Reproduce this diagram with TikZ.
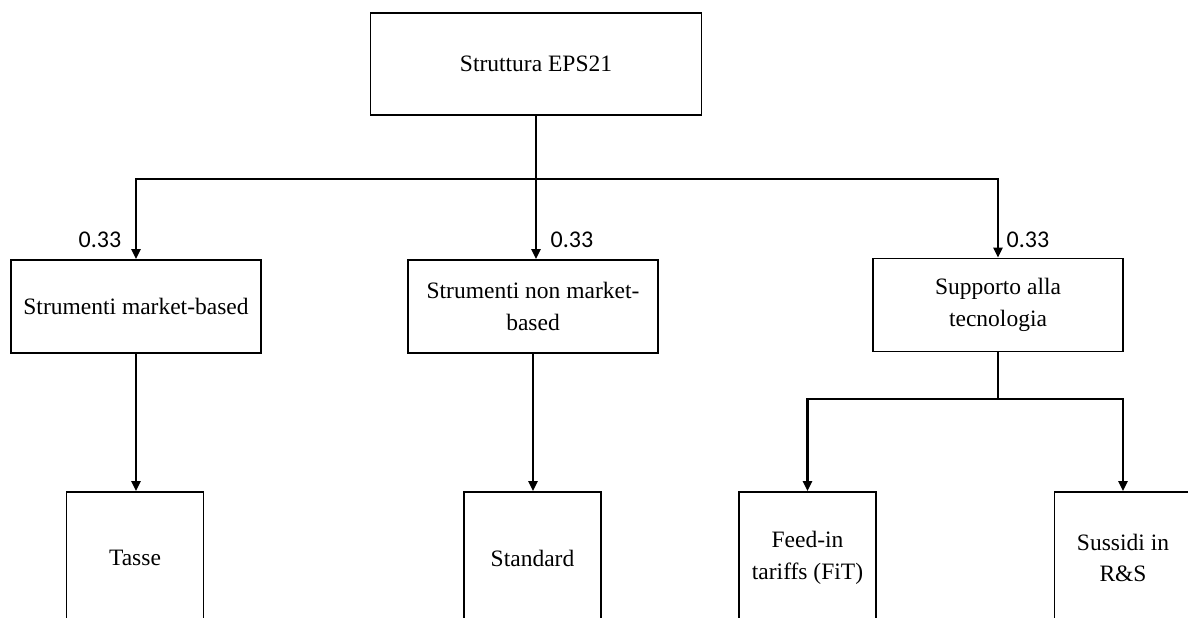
\documentclass[tikz,border=0pt]{standalone}
\usepackage{fontspec}
\setmainfont{Liberation Serif}
\newfontfamily\weightfont{Carlito}
\usetikzlibrary{arrows.meta}
\begin{document}
\begin{tikzpicture}[x=1pt,y=-1pt,
  box/.style={draw, line width=1.8pt, inner sep=0pt, align=center,
              font=\fontsize{23.5}{31.5}\selectfont},
  wide/.style={box, minimum width=250pt, minimum height=93pt},
  leaf/.style={box, minimum width=137pt, minimum height=132pt},
  link/.style={line width=2.9pt},
  arr/.style={link, -{Triangle[length=10pt,width=9pt]}},
  weight/.style={font=\weightfont\fontsize{24}{28}\selectfont, inner sep=0pt}]
\useasboundingbox (0,0) rectangle (1188,618);

% root
\node[box, minimum width=331pt, minimum height=102pt] (root) at (536,64) {Struttura EPS21};

% first level
\node[wide] (mb)   at (136,306.5) {Strumenti market-based};
\node[wide] (nmb)  at (533,306.5) {Strumenti non market-\\based};
\node[wide] (tech) at (998,305)   {Supporto alla\\tecnologia};

% weights
\node[weight] (w1) at (100,240)  {0.33};
\node[weight] (w2) at (572,240)  {0.33};
\node[weight] (w3) at (1028,240) {0.33};

% second level
\node[leaf] (tasse) at (135,558)    {Tasse};
\node[leaf] (std)   at (532.5,558)  {Standard};
\node[leaf] (fit)   at (807.5,558)  {Feed-in\\tariffs (FiT)};
\node[leaf] (rs)    at (1123,558)   {Sussidi in\\R\&S};

% bus lines
\coordinate (bar)  at (0,179);
\coordinate (bar2) at (0,399);

% root to first level
\draw[arr] (root.south |- bar) -| (mb.north);
\draw[arr] (root.south |- bar) -| (tech.north);
\draw[arr] (root.south) -- (root.south |- nmb.north);

% first level to second level
\draw[arr] (mb.south) -- (mb.south |- tasse.north);
\draw[arr] (nmb.south) -- (nmb.south |- std.north);
\draw[link] (tech.south) -- (tech.south |- bar2);
\draw[arr] (tech.south |- bar2) -| (fit.north);
\draw[arr] (tech.south |- bar2) -| (rs.north);
\end{tikzpicture}
\end{document}
